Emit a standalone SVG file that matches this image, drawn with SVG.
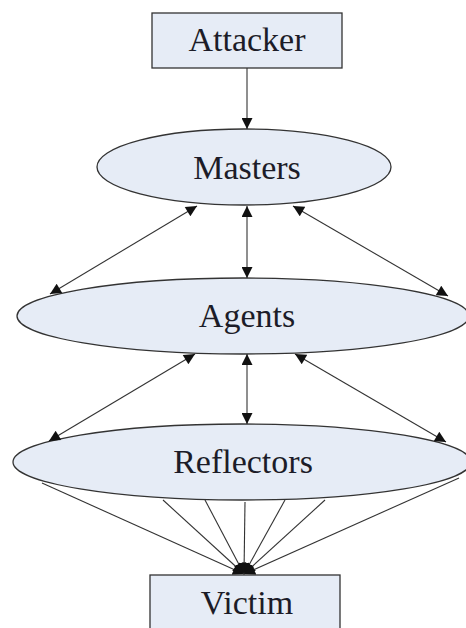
<svg xmlns="http://www.w3.org/2000/svg" width="466" height="628" viewBox="0 0 466 628">
<style>
.box{fill:#e6ecf6;stroke:#333;stroke-width:1.3}
.lbl{font-family:"Liberation Serif","Times New Roman",serif;font-size:34px;fill:#1c1c28;text-anchor:middle}
.c{stroke:#333;stroke-width:1.1;fill:none}
</style>
<defs>
<marker id="ah" viewBox="0 0 10 10" refX="10" refY="5" markerWidth="15" markerHeight="11" markerUnits="userSpaceOnUse" orient="auto-start-reverse">
<path d="M0,0 L10,5 L0,10 z" fill="#111"/>
</marker>
<marker id="ah2" viewBox="0 0 10 10" refX="10" refY="5" markerWidth="13" markerHeight="11" markerUnits="userSpaceOnUse" orient="auto">
<path d="M0,0 L10,5 L0,10 z" fill="#111"/>
</marker>
</defs>
<rect width="466" height="628" fill="#fff"/>
<g id="attacker"><rect class="box" x="152" y="13" width="190" height="55"/><text class="lbl" x="247" y="51">Attacker</text></g>
<g id="masters"><ellipse class="box" cx="244" cy="167" rx="147" ry="38"/><text class="lbl" x="247" y="179">Masters</text></g>
<g id="agents"><ellipse class="box" cx="243" cy="316" rx="226" ry="38"/><text class="lbl" x="247" y="327">Agents</text></g>
<g id="reflectors"><ellipse class="box" cx="242" cy="462" rx="229" ry="38"/><text class="lbl" x="243" y="473">Reflectors</text></g>
<g id="victim"><rect class="box" x="150" y="575" width="190" height="60"/><text class="lbl" x="247" y="614">Victim</text></g>
<g id="connectors">
<line class="c" x1="247" y1="68" x2="247" y2="129" marker-end="url(#ah)"/>
<line class="c" x1="247" y1="206" x2="247" y2="278" marker-start="url(#ah)" marker-end="url(#ah)"/>
<line class="c" x1="197" y1="206" x2="50" y2="294" marker-start="url(#ah)" marker-end="url(#ah)"/>
<line class="c" x1="293" y1="206" x2="448" y2="296" marker-start="url(#ah)" marker-end="url(#ah)"/>
<line class="c" x1="247" y1="354" x2="247" y2="424" marker-start="url(#ah)" marker-end="url(#ah)"/>
<line class="c" x1="195" y1="354" x2="49" y2="441" marker-start="url(#ah)" marker-end="url(#ah)"/>
<line class="c" x1="295" y1="354" x2="446" y2="442" marker-start="url(#ah)" marker-end="url(#ah)"/>
<line class="c" x1="42" y1="483" x2="244" y2="574" marker-end="url(#ah2)"/>
<line class="c" x1="163" y1="500" x2="244" y2="574" marker-end="url(#ah2)"/>
<line class="c" x1="205" y1="500" x2="244" y2="574" marker-end="url(#ah2)"/>
<line class="c" x1="245" y1="502" x2="244" y2="574" marker-end="url(#ah2)"/>
<line class="c" x1="285" y1="500" x2="244" y2="574" marker-end="url(#ah2)"/>
<line class="c" x1="325" y1="500" x2="244" y2="574" marker-end="url(#ah2)"/>
<line class="c" x1="459" y1="478" x2="244" y2="574" marker-end="url(#ah2)"/>
</g>
</svg>
